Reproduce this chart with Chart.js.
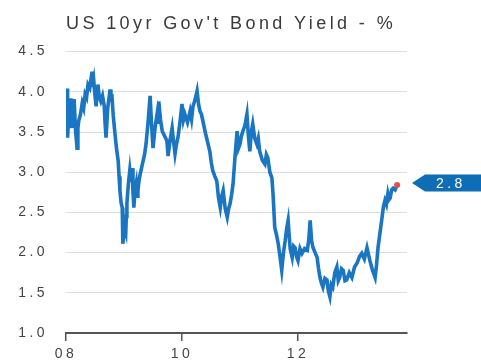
<!DOCTYPE html>
<html>
<head>
<meta charset="utf-8">
<script src="https://cdn.jsdelivr.net/npm/chart.js@4/dist/chart.umd.min.js"></script>
<style>
  html, body { margin: 0; padding: 0; background: #fff; }
  #chart { display: block; }
</style>
</head>
<body>
<canvas id="chart" width="481" height="361"></canvas>
<script>
const titel = "US 10yr Gov't Bond Yield - %";

// datum als jaar-fractie, rendement in %
const datums = [
  2008.02, 2008.025, 2008.03, 2008.05, 2008.07, 2008.085, 2008.10, 2008.12, 2008.14, 2008.165,
  2008.19, 2008.205, 2008.22, 2008.25, 2008.28, 2008.305, 2008.33, 2008.355, 2008.38, 2008.41,
  2008.45, 2008.465, 2008.48, 2008.50, 2008.52, 2008.535, 2008.55, 2008.575, 2008.60, 2008.63,
  2008.66, 2008.675, 2008.69, 2008.72, 2008.76, 2008.775, 2008.79, 2008.815, 2008.84, 2008.87,
  2008.90, 2008.915, 2008.93, 2008.95, 2008.97, 2008.98, 2009.005, 2009.03, 2009.04, 2009.05,
  2009.075, 2009.10, 2009.12, 2009.14, 2009.155, 2009.17, 2009.19, 2009.21, 2009.225, 2009.24,
  2009.26, 2009.28, 2009.305, 2009.33, 2009.355, 2009.38, 2009.415, 2009.45, 2009.475, 2009.50,
  2009.535, 2009.57, 2009.585, 2009.60, 2009.63, 2009.66, 2009.70, 2009.74, 2009.75, 2009.76,
  2009.795, 2009.83, 2009.855, 2009.88, 2009.905, 2009.93, 2009.965, 2010.00, 2010.025, 2010.05,
  2010.095, 2010.14, 2010.165, 2010.19, 2010.225, 2010.26, 2010.285, 2010.31, 2010.335, 2010.36,
  2010.40, 2010.48, 2010.505, 2010.53, 2010.565, 2010.60, 2010.63, 2010.66, 2010.685, 2010.71,
  2010.745, 2010.78, 2010.805, 2010.83, 2010.855, 2010.88, 2010.915, 2010.95, 2010.975, 2011.00,
  2011.025, 2011.05, 2011.085, 2011.12, 2011.145, 2011.17, 2011.195, 2011.22, 2011.255, 2011.29,
  2011.315, 2011.34, 2011.385, 2011.43, 2011.455, 2011.48, 2011.515, 2011.55, 2011.57, 2011.60,
  2011.63, 2011.66, 2011.69, 2011.72, 2011.75, 2011.78, 2011.805, 2011.83, 2011.865, 2011.90,
  2011.925, 2011.95, 2011.975, 2012.00, 2012.035, 2012.07, 2012.115, 2012.16, 2012.185, 2012.21,
  2012.235, 2012.26, 2012.295, 2012.33, 2012.355, 2012.38, 2012.405, 2012.43, 2012.465, 2012.50,
  2012.525, 2012.55, 2012.575, 2012.60, 2012.635, 2012.67, 2012.695, 2012.72, 2012.75, 2012.78,
  2012.81, 2012.84, 2012.885, 2012.93, 2012.975, 2013.02, 2013.06, 2013.10, 2013.145, 2013.19,
  2013.215, 2013.24, 2013.285, 2013.33, 2013.355, 2013.38, 2013.415, 2013.45, 2013.475, 2013.50,
  2013.525, 2013.55, 2013.57, 2013.59, 2013.615, 2013.64, 2013.675, 2013.71
];
const rendement = [
  4.04, 3.70, 3.43, 3.75, 3.92, 3.68, 3.55, 3.80, 3.91, 3.52,
  3.30, 3.55, 3.64, 3.72, 3.86, 3.80, 3.97, 3.93, 4.09, 4.05,
  4.25, 4.06, 4.13, 3.95, 3.82, 4.00, 4.09, 3.93, 3.88, 3.95,
  3.82, 3.60, 3.43, 3.80, 4.03, 3.88, 3.97, 3.70, 3.51, 3.30,
  3.14, 2.95, 2.77, 2.62, 2.56, 2.11, 2.30, 2.24, 2.45, 2.61,
  2.85, 3.02, 2.88, 3.05, 2.75, 2.56, 2.78, 2.86, 2.70, 2.77,
  2.90, 2.98, 3.06, 3.14, 3.22, 3.35, 3.62, 3.95, 3.60, 3.30,
  3.55, 3.72, 3.60, 3.88, 3.65, 3.51, 3.45, 3.39, 3.30, 3.20,
  3.40, 3.55, 3.38, 3.23, 3.35, 3.43, 3.62, 3.85, 3.65, 3.72,
  3.62, 3.76, 3.66, 3.82, 3.90, 4.01, 3.85, 3.76, 3.72, 3.64,
  3.50, 3.26, 3.12, 3.02, 2.95, 2.89, 2.68, 2.56, 2.70, 2.77,
  2.55, 2.44, 2.55, 2.61, 2.72, 2.85, 3.20, 3.51, 3.30, 3.35,
  3.45, 3.51, 3.58, 3.72, 3.45, 3.26, 3.50, 3.60, 3.42, 3.35,
  3.42, 3.26, 3.15, 3.10, 3.22, 3.18, 3.00, 2.93, 2.73, 2.31,
  2.22, 2.11, 1.95, 1.78, 2.00, 2.15, 2.30, 2.40, 2.05, 1.94,
  2.08, 2.06, 1.95, 1.90, 2.05, 1.99, 2.05, 2.03, 2.15, 2.40,
  2.15, 2.06, 2.00, 1.94, 1.80, 1.69, 1.62, 1.57, 1.68, 1.66,
  1.52, 1.45, 1.60, 1.57, 1.75, 1.82, 1.65, 1.69, 1.80, 1.78,
  1.65, 1.66, 1.75, 1.69, 1.82, 1.87, 1.95, 1.99, 1.92, 2.06,
  1.98, 1.90, 1.78, 1.69, 1.85, 2.06, 2.25, 2.44, 2.58, 2.65,
  2.60, 2.73, 2.66, 2.68, 2.78, 2.80, 2.78, 2.84
];

const yTicks = [1.0, 1.5, 2.0, 2.5, 3.0, 3.5, 4.0, 4.5];
const xTicks = [2008, 2010, 2012];
const xTickLabels = ['08', '10', '12'];

const blauw = '#1a75c2';
const lettertype = '"Liberation Sans", Arial, sans-serif';
const punten = datums.map((d, i) => ({ x: d, y: rendement[i] }));
const laatste = punten.length - 1;

// tekst wat breder zetten zoals in het origineel
const letterWijdte = {
  id: 'letterWijdte',
  beforeLayout(chart) { chart.ctx.letterSpacing = '3.4px'; },
  beforeDraw(chart) { chart.ctx.letterSpacing = '3.4px'; }
};

// label rechts met laatste waarde
const laatsteLabel = {
  id: 'laatsteLabel',
  afterDraw(chart) {
    const { ctx, scales } = chart;
    const y = scales.y.getPixelForValue(rendement[laatste]) - 2;
    const x0 = 412;
    ctx.save();
    ctx.fillStyle = '#0e6db4';
    ctx.beginPath();
    ctx.moveTo(x0, y);
    ctx.lineTo(x0 + 13, y - 8.5);
    ctx.lineTo(481, y - 8.5);
    ctx.lineTo(481, y + 8.5);
    ctx.lineTo(x0 + 13, y + 8.5);
    ctx.closePath();
    ctx.fill();
    ctx.fillStyle = '#fff';
    ctx.font = '14px ' + lettertype;
    ctx.letterSpacing = '3.4px';
    ctx.textBaseline = 'middle';
    ctx.textAlign = 'left';
    ctx.fillText(String(Math.floor(rendement[laatste] * 10) / 10), 436, y + 1);
    ctx.restore();
  }
};

new Chart(document.getElementById('chart'), {
  type: 'line',
  data: {
    datasets: [{
      data: punten,
      borderColor: blauw,
      borderWidth: 3.6,
      borderJoinStyle: 'miter',
      tension: 0,
      pointRadius: punten.map((p, i) => i === laatste ? 3 : 0),
      pointBackgroundColor: '#e0504a',
      pointBorderWidth: 0
    }]
  },
  options: {
    responsive: false,
    animation: false,
    events: [],
    layout: { padding: { left: 0, right: 74, top: 0, bottom: 0 } },
    plugins: {
      legend: { display: false },
      tooltip: { enabled: false },
      title: {
        display: true,
        text: titel,
        align: 'start',
        fullSize: false,
        color: '#3a3a3a',
        font: { family: lettertype, size: 18, weight: 'normal' },
        padding: { top: 13, bottom: 17 }
      }
    },
    scales: {
      x: {
        type: 'linear',
        min: 2008,
        max: 2013.88,
        afterBuildTicks: s => { s.ticks = xTicks.map(v => ({ value: v })); },
        afterFit: s => { s.height = 28; },
        grid: { drawOnChartArea: false, drawTicks: true, tickLength: 8, color: '#555', lineWidth: 1.5 },
        border: { display: true, color: '#555', width: 2 },
        ticks: {
          padding: 5,
          color: '#444',
          font: { family: lettertype, size: 14 },
          maxRotation: 0,
          callback: v => xTickLabels[xTicks.indexOf(v)]
        }
      },
      y: {
        min: 1.0,
        max: 4.5,
        afterBuildTicks: s => { s.ticks = yTicks.map(v => ({ value: v })); },
        afterFit: s => { s.width = 66; },
        grid: { color: '#dedede', lineWidth: 1, drawTicks: false },
        border: { display: false },
        ticks: {
          padding: 18,
          color: '#444',
          font: { family: lettertype, size: 14 },
          callback: v => v.toFixed(1)
        }
      }
    }
  },
  plugins: [letterWijdte, laatsteLabel]
});
</script>
</body>
</html>
